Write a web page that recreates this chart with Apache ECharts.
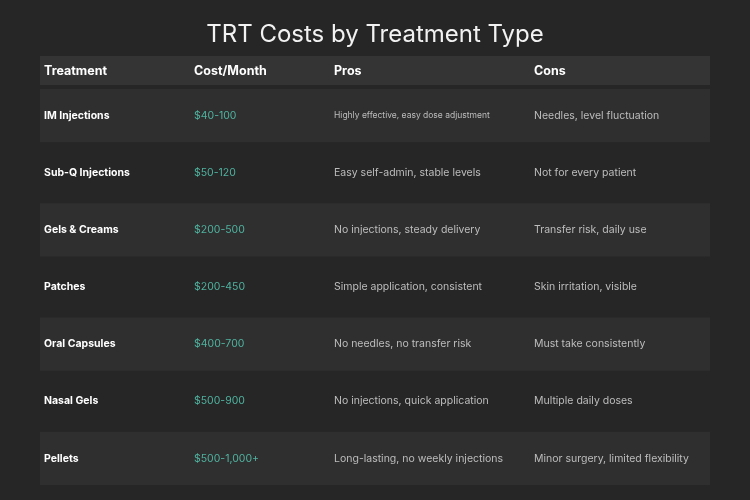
<!DOCTYPE html>
<html><head><meta charset="utf-8">
<script src="https://cdn.jsdelivr.net/npm/echarts@6/dist/echarts.min.js"></script>
<style>html,body{margin:0;background:#262626}#c{width:750px;height:500px}</style>
</head><body><div id="c"></div>
<script>
var headers = ['Treatment', 'Cost/Month', 'Pros', 'Cons'];
var treatments = ['IM Injections', 'Sub-Q Injections', 'Gels & Creams', 'Patches', 'Oral Capsules', 'Nasal Gels', 'Pellets'];
var costs = ['$40-100', '$50-120', '$200-500', '$200-450', '$400-700', '$500-900', '$500-1,000+'];
var pros = ['Highly effective, easy dose adjustment', 'Easy self-admin, stable levels', 'No injections, steady delivery',
    'Simple application, consistent', 'No needles, no transfer risk', 'No injections, quick application', 'Long-lasting, no weekly injections'];
var cons = ['Needles, level fluctuation', 'Not for every patient', 'Transfer risk, daily use', 'Skin irritation, visible',
    'Must take consistently', 'Multiple daily doses', 'Minor surgery, limited flexibility'];
var colX = [4, 154, 294, 494];

var chart = echarts.init(document.getElementById('c'));
var font = 'Inter, "Noto Sans", sans-serif';

var rows = treatments.map(function (t, i) { return [i, t, costs[i], pros[i], cons[i]]; });

chart.setOption({
    backgroundColor: '#262626',
    title: {
        text: 'TRT Costs by Treatment Type', left: 'center', top: 18,
        textStyle: { color: '#f2f2f2', fontSize: 24, fontWeight: 'normal', fontFamily: font }
    },
    grid: { left: 40, right: 40, top: 87, bottom: 13 },
    xAxis: { type: 'value', min: 0, max: 670, show: false },
    yAxis: { type: 'category', data: treatments, inverse: true, show: false },
    graphic: [
        { type: 'rect', shape: { x: 40, y: 56, width: 670, height: 29 }, style: { fill: '#343434' } }
    ].concat(headers.map(function (h, i) {
        return { type: 'text', x: 40 + colX[i], y: 71,
            style: { text: h, fill: '#ffffff', font: 'bold 12.5px ' + font, verticalAlign: 'middle' } };
    })),
    series: [{
        type: 'custom',
        data: rows,
        renderItem: function (params, api) {
            var i = api.value(0);
            var c = api.coord([0, i]);
            var w = api.size([670, 1]);
            var h = api.size([0, 1])[1];
            var y = c[1];
            var ch = [];
            if (i % 2 === 0) {
                ch.push({ type: 'rect', shape: { x: c[0], y: y - h / 2 + 2, width: w[0], height: h - 4 },
                    style: { fill: '#2f2f2f' } });
            }
            var txt = [rows[i][1], rows[i][2], rows[i][3], rows[i][4]];
            var fills = ['#ffffff', '#4fb3a0', '#bdbdbd', '#bdbdbd'];
            var fonts = ['bold 10.5px ', '10.5px ', (i === 0 ? '8.5px ' : '10.5px '), '10.5px '];
            for (var k = 0; k < 4; k++) {
                ch.push({ type: 'text', x: c[0] + colX[k], y: y,
                    style: { text: txt[k], fill: fills[k], font: fonts[k] + font, verticalAlign: 'middle' } });
            }
            return { type: 'group', children: ch };
        }
    }]
});
</script></body></html>
